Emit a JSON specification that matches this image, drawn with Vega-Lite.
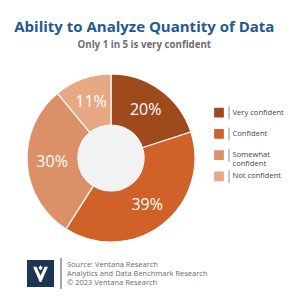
{
  "$schema": "https://vega.github.io/schema/vega-lite/v6.json",
  "padding": {"left": 14, "top": 19, "right": 0, "bottom": 0},
  "background": "white",
  "config": {"view": {"stroke": null}, "font": "Open Sans"},
  "title": {
    "text": "Ability to Analyze Quantity of Data",
    "subtitle": "Only 1 in 5 is very confident",
    "font": "Open Sans",
    "fontSize": 15,
    "fontWeight": "bold",
    "color": "#22598f",
    "subtitleFont": "Open Sans",
    "subtitleFontSize": 9.7,
    "subtitleFontWeight": "bold",
    "subtitleColor": "#6e6e6e",
    "subtitlePadding": 5,
    "anchor": "middle",
    "offset": 22,
    "dx": -11.5
  },
  "spacing": 12,
  "vconcat": [
    {
      "spacing": 14,
      "hconcat": [
        {
          "width": 168,
          "height": 168,
          "data": {"values": [
            {"response": "Very confident", "label": "Very confident", "share": 0.20, "idx": 1},
            {"response": "Confident", "label": "Confident", "share": 0.39, "idx": 2},
            {"response": "Somewhat confident", "label": "Somewhat\nconfident", "share": 0.30, "idx": 3},
            {"response": "Not confident", "label": "Not confident", "share": 0.11, "idx": 4}
          ]},
          "layer": [
            {
              "mark": {"type": "arc", "outerRadius": 84, "innerRadius": 33, "stroke": "white", "strokeWidth": 1.2},
              "encoding": {
                "theta": {"field": "share", "type": "quantitative", "stack": true},
                "order": {"field": "idx", "type": "quantitative"},
                "color": {
                  "field": "response", "type": "nominal", "legend": null,
                  "scale": {
                    "domain": ["Very confident", "Confident", "Somewhat confident", "Not confident"],
                    "range": ["#9e4a1c", "#cf6129", "#dc9068", "#e6a983"]
                  }
                }
              }
            },
            {
              "mark": {"type": "text", "radius": 59, "color": "white", "fontSize": 16, "font": "Open Sans"},
              "encoding": {
                "theta": {"field": "share", "type": "quantitative", "stack": true},
                "order": {"field": "idx", "type": "quantitative"},
                "text": {"field": "share", "type": "quantitative", "format": ".0%"}
              }
            },
            {
              "mark": {"type": "point", "shape": "circle", "filled": true, "size": 4356, "color": "#f2f2f2", "opacity": 1},
              "encoding": {}
            }
          ]
        },
        {
          "width": 75,
          "height": 168,
          "data": {"values": [
            {"response": "Very confident", "label": "Very confident", "share": 0.20, "idx": 1},
            {"response": "Confident", "label": "Confident", "share": 0.39, "idx": 2},
            {"response": "Somewhat confident", "label": "Somewhat\nconfident", "share": 0.30, "idx": 3},
            {"response": "Not confident", "label": "Not confident", "share": 0.11, "idx": 4}
          ]},
          "encoding": {
            "y": {
              "field": "label", "type": "nominal", "sort": null, "axis": null,
              "scale": {"type": "band", "paddingInner": 0, "paddingOuter": 0, "range": [28, 113]}
            }
          },
          "layer": [
            {
              "mark": {"type": "point", "shape": "square", "filled": true, "size": 95, "opacity": 1},
              "encoding": {
                "x": {"datum": 7, "type": "quantitative", "scale": {"domain": [0, 75], "nice": false}, "axis": null},
                "color": {
                  "field": "response", "type": "nominal", "legend": null,
                  "scale": {
                    "domain": ["Very confident", "Confident", "Somewhat confident", "Not confident"],
                    "range": ["#9e4a1c", "#cf6129", "#dc9068", "#e6a983"]
                  }
                }
              }
            },
            {
              "mark": {"type": "tick", "orient": "vertical", "size": 13, "thickness": 1, "color": "#666666"},
              "encoding": {"x": {"datum": 17, "type": "quantitative"}}
            },
            {
              "mark": {"type": "text", "align": "left", "baseline": "middle", "lineBreak": "\n", "lineHeight": 8.5, "fontSize": 7.6, "color": "#444444", "font": "Open Sans"},
              "encoding": {
                "x": {"datum": 20.5, "type": "quantitative"},
                "text": {"field": "label", "type": "nominal"}
              }
            }
          ]
        }
      ]
    },
    {
      "spacing": 6,
      "hconcat": [
        {
          "width": 27,
          "height": 31,
          "data": {"values": [{"brand": "Ventana Research"}]},
          "layer": [
            {
              "mark": {"type": "point", "shape": "square", "filled": true, "size": 729, "color": "#1b3655", "opacity": 1},
              "encoding": {}
            },
            {
              "mark": {"type": "point", "shape": "M-0.55,-0.5 L-0.3,-0.5 L0,0.15 L0.3,-0.5 L0.55,-0.5 L0.06,0.63 L-0.06,0.63 Z M0,-0.62 L0.16,-0.42 L0,-0.22 L-0.16,-0.42 Z", "filled": true, "size": 729, "color": "white", "opacity": 1},
              "encoding": {}
            }
          ]
        },
        {
          "width": 200,
          "height": 31,
          "data": {"values": [
            {"line": 1, "text": "Source: Ventana Research"},
            {"line": 2, "text": "Analytics and Data Benchmark Research"},
            {"line": 3, "text": "© 2023 Ventana Research"}
          ]},
          "layer": [
            {
              "mark": {"type": "rule", "color": "#999999", "strokeWidth": 1},
              "encoding": {"x": {"datum": 1, "type": "quantitative", "scale": {"domain": [0, 200], "nice": false}, "axis": null}}
            },
            {
              "mark": {"type": "text", "align": "left", "baseline": "middle", "fontSize": 7.5, "color": "#6b6b6b", "font": "Open Sans"},
              "encoding": {
                "x": {"datum": 7, "type": "quantitative"},
                "y": {"field": "line", "type": "ordinal", "axis": null, "scale": {"type": "band", "paddingInner": 0, "paddingOuter": 0.27, "align": 0.65}},
                "text": {"field": "text", "type": "nominal"}
              }
            }
          ]
        }
      ]
    }
  ]
}
